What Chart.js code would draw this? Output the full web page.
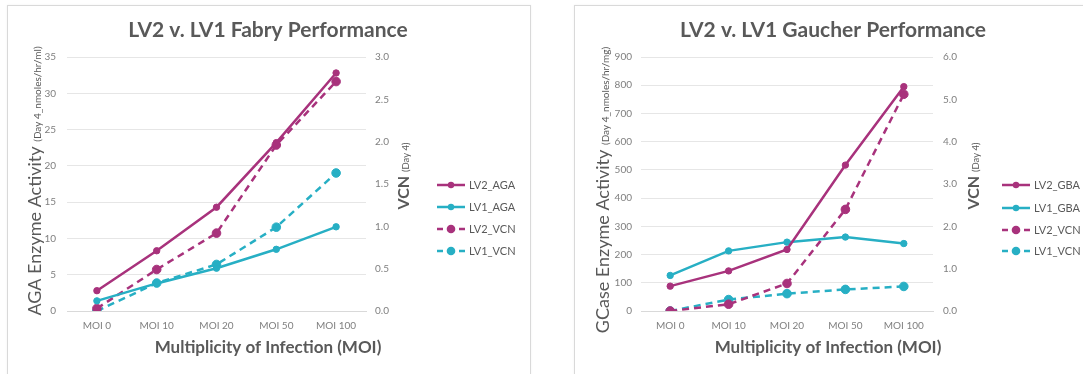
<!DOCTYPE html>
<html>
<head>
<meta charset="utf-8">
<script src="https://cdn.jsdelivr.net/npm/chart.js@4/dist/chart.umd.min.js"></script>
<style>
  html, body { margin: 0; padding: 0; background: #ffffff; }
  body { width: 1083px; height: 374px; position: relative; overflow: hidden; }
  .panel { position: absolute; border: 1px solid #d9d9d9; background: #ffffff; box-shadow: 0 0 2px rgba(0,0,0,0.06); }
  canvas { position: absolute; top: 0; }
</style>
</head>
<body>
<div class="panel" style="left:7px; top:5px; width:522px; height:420px;"></div>
<div class="panel" style="left:574px; top:5px; width:560px; height:420px;"></div>
<canvas id="fabry" width="540" height="374" style="left:0px; width:540px; height:374px;"></canvas>
<canvas id="gaucher" width="543" height="374" style="left:540px; width:543px; height:374px;"></canvas>
<script>
// Shared category labels
const categories = ['MOI 0', 'MOI 10', 'MOI 20', 'MOI 50', 'MOI 100'];

// Fabry: AGA enzyme activity (nmoles/hr/ml) and vector copy number
const fabryLv2Aga = [2.8, 8.3, 14.3, 23.2, 32.8];
const fabryLv1Aga = [1.4, 3.8, 5.9, 8.5, 11.6];
const fabryLv2Vcn = [0.03, 0.49, 0.92, 1.96, 2.71];
const fabryLv1Vcn = [0.0, 0.33, 0.55, 0.99, 1.63];

// Gaucher: GCase enzyme activity (nmoles/hr/mg) and vector copy number
const gaucherLv2Gba = [88, 142, 218, 517, 795];
const gaucherLv1Gba = [126, 213, 244, 262, 239];
const gaucherLv2Vcn = [0.0, 0.16, 0.65, 2.40, 5.12];
const gaucherLv1Vcn = [0.0, 0.27, 0.41, 0.51, 0.58];

// Axis ranges and tick steps
const fabryActivityTicks = { min: 0, max: 35, step: 5 };
const fabryVcnTicks = { min: 0, max: 3, step: 0.5 };
const gaucherActivityTicks = { min: 0, max: 900, step: 100 };
const gaucherVcnTicks = { min: 0, max: 6, step: 1 };

const LV2_COLOR = '#a8327c';
const LV1_COLOR = '#27afc4';
const TEXT_DARK = '#595959';
const TEXT_TICK = '#7f7f7f';
const FONT = 'Lato, "Open Sans", sans-serif';

function solidSeries(label, data, color) {
  return {
    label, data, yAxisID: 'y',
    borderColor: color, backgroundColor: color,
    borderWidth: 2.5, pointRadius: 3.2, pointHoverRadius: 3.2,
    pointBackgroundColor: color, pointBorderColor: color, pointBorderWidth: 1,
    tension: 0, fill: false
  };
}
function dashedSeries(label, data, color) {
  return {
    label, data, yAxisID: 'y1',
    borderColor: color, backgroundColor: color,
    borderWidth: 2.5, borderDash: [7, 5], pointRadius: 4.3, pointHoverRadius: 4.3,
    pointBackgroundColor: color, pointBorderColor: color, pointBorderWidth: 1,
    tension: 0, fill: false
  };
}

// Draws a rotated axis title made of a larger main part and a smaller note
function drawVerticalTitle(ctx, x, cy, parts) {
  ctx.save();
  let total = 0;
  const widths = parts.map(p => { ctx.font = p.font; const w = ctx.measureText(p.text).width; total += w; return w; });
  ctx.translate(x, cy);
  ctx.rotate(-Math.PI / 2);
  ctx.textAlign = 'left';
  ctx.textBaseline = 'alphabetic';
  let pos = -total / 2;
  parts.forEach((p, i) => {
    ctx.font = p.font;
    ctx.fillStyle = TEXT_DARK;
    ctx.fillText(p.text, pos, p.shift);
    pos += widths[i];
  });
  ctx.restore();
}

// Titles, rotated axis titles and the line/marker legend
const panelText = {
  id: 'panelText',
  afterDraw(chart, args, o) {
    const ctx = chart.ctx;
    ctx.save();
    ctx.fillStyle = TEXT_DARK;
    ctx.textAlign = 'center';
    ctx.textBaseline = 'middle';
    ctx.font = 'bold 21px ' + FONT;
    ctx.fillText(o.title, o.titleX, 30);
    ctx.font = 'bold 17px ' + FONT;
    ctx.fillText(o.xTitle, o.xTitleX, 348);
    ctx.restore();

    drawVerticalTitle(ctx, o.leftTitleX, o.leftTitleY, [
      { text: o.leftMain + ' ', font: '18px ' + FONT, shift: 6.5 },
      { text: o.leftNote, font: '10px ' + FONT, shift: 6.5 }
    ]);
    drawVerticalTitle(ctx, o.rightTitleX, o.rightTitleY, [
      { text: o.rightMain + ' ', font: 'bold 16px ' + FONT, shift: 6 },
      { text: o.rightNote, font: '9.5px ' + FONT, shift: 6 }
    ]);

    // legend
    chart.data.datasets.forEach((ds, i) => {
      const y = o.legendY[i];
      ctx.save();
      ctx.strokeStyle = ds.borderColor;
      ctx.lineWidth = ds.borderWidth;
      ctx.setLineDash(ds.borderDash ? [6, 5] : []);
      ctx.beginPath();
      ctx.moveTo(o.legendX, y);
      ctx.lineTo(o.legendX + 28, y);
      ctx.stroke();
      ctx.setLineDash([]);
      ctx.fillStyle = ds.borderColor;
      ctx.beginPath();
      ctx.arc(o.legendX + 14, y, ds.pointRadius, 0, Math.PI * 2);
      ctx.fill();
      ctx.fillStyle = TEXT_DARK;
      ctx.font = '11px ' + FONT;
      ctx.textAlign = 'left';
      ctx.textBaseline = 'middle';
      ctx.fillText(ds.label, o.legendX + 32, y);
      ctx.restore();
    });
  }
};

function buildChart(id, cfg) {
  return new Chart(document.getElementById(id), {
    type: 'line',
    data: {
      labels: categories,
      datasets: cfg.datasets
    },
    options: {
      responsive: false,
      animation: false,
      devicePixelRatio: 1,
      layout: { padding: { top: 57, left: 0, right: 0, bottom: 0 } },
      plugins: {
        legend: { display: false },
        title: { display: false },
        tooltip: { enabled: false },
        panelText: cfg.text
      },
      scales: {
        x: {
          type: 'category',
          offset: true,
          grid: { display: false, drawTicks: false },
          border: { display: true, color: '#d9d9d9', width: 1 },
          ticks: { color: TEXT_TICK, font: { family: FONT, size: 10 }, padding: 9, maxRotation: 0, autoSkip: false },
          afterFit(s) { s.height = 63; }
        },
        y: {
          position: 'left',
          min: cfg.leftTicks.min, max: cfg.leftTicks.max,
          ticks: { stepSize: cfg.leftTicks.step, color: TEXT_TICK, font: { family: FONT, size: 10 }, padding: cfg.leftPad },
          grid: { color: '#e6e6e6', lineWidth: 1, drawTicks: false },
          border: { display: false },
          afterFit(s) { s.width = cfg.leftWidth; }
        },
        y1: {
          position: 'right',
          min: cfg.rightTicks.min, max: cfg.rightTicks.max,
          ticks: { stepSize: cfg.rightTicks.step, color: TEXT_TICK, font: { family: FONT, size: 10 }, padding: cfg.rightPad,
                   callback: v => Number(v).toFixed(1) },
          grid: { display: false, drawTicks: false },
          border: { display: false },
          afterFit(s) { s.width = cfg.rightWidth; }
        }
      }
    },
    plugins: [panelText]
  });
}

buildChart('fabry', {
  datasets: [
    solidSeries('LV2_AGA', fabryLv2Aga, LV2_COLOR),
    solidSeries('LV1_AGA', fabryLv1Aga, LV1_COLOR),
    dashedSeries('LV2_VCN', fabryLv2Vcn, LV2_COLOR),
    dashedSeries('LV1_VCN', fabryLv1Vcn, LV1_COLOR)
  ],
  leftTicks: fabryActivityTicks,
  rightTicks: fabryVcnTicks,
  leftWidth: 67, rightWidth: 174, leftPad: 11, rightPad: 9,
  text: {
    title: 'LV2 v. LV1 Fabry Performance', titleX: 268,
    xTitle: 'Multiplicity of Infection (MOI)', xTitleX: 268,
    leftMain: 'AGA Enzyme Activity', leftNote: '(Day 4_nmoles/hr/ml)', leftTitleX: 34, leftTitleY: 181,
    rightMain: 'VCN', rightNote: '(Day 4)', rightTitleX: 403, rightTitleY: 176,
    legendX: 437, legendY: [185, 207, 229, 251]
  }
});

buildChart('gaucher', {
  datasets: [
    solidSeries('LV2_GBA', gaucherLv2Gba, LV2_COLOR),
    solidSeries('LV1_GBA', gaucherLv1Gba, LV1_COLOR),
    dashedSeries('LV2_VCN', gaucherLv2Vcn, LV2_COLOR),
    dashedSeries('LV1_VCN', gaucherLv1Vcn, LV1_COLOR)
  ],
  leftTicks: gaucherActivityTicks,
  rightTicks: gaucherVcnTicks,
  leftWidth: 101, rightWidth: 150, leftPad: 9, rightPad: 10,
  text: {
    title: 'LV2 v. LV1 Gaucher Performance', titleX: 293,
    xTitle: 'Multiplicity of Infection (MOI)', xTitleX: 288,
    leftMain: 'GCase Enzyme Activity', leftNote: '(Day 4_nmoles/hr/mg)', leftTitleX: 62, leftTitleY: 190,
    rightMain: 'VCN', rightNote: '(Day 4)', rightTitleX: 433, rightTitleY: 176,
    legendX: 462, legendY: [185, 208, 230, 251]
  }
});
</script>
</body>
</html>
